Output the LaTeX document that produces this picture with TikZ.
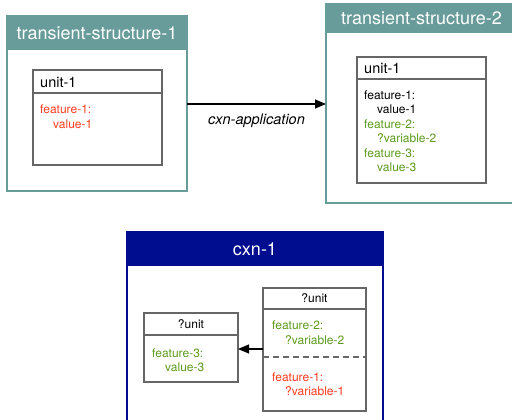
\documentclass[tikz,border=0pt]{standalone}
\usepackage{fontspec}
\setmainfont{TeX Gyre Heros}
\usetikzlibrary{arrows.meta}
\definecolor{teal1}{HTML}{689C9A}
\definecolor{navy1}{HTML}{000D8F}
\definecolor{red1}{HTML}{FF3B1F}
\definecolor{green1}{HTML}{5C9A1C}
\definecolor{gray1}{HTML}{666666}
\tikzset{
  box/.style={draw, rectangle, inner sep=0pt, outer sep=0pt, anchor=north west, line width=1.4pt},
  tsbox/.style={box, draw=teal1},
  cxbox/.style={box, draw=navy1},
  headfill/.style={rectangle, inner sep=0pt, outer sep=0pt, anchor=north west, text=white, font=\fontsize{18}{21}\selectfont},
  unitbox/.style={box, draw=gray1, line width=1.2pt},
  utitle/.style={anchor=west, inner sep=0pt, font=\fontsize{14.5}{17}\selectfont},
  qtitle/.style={anchor=center, inner sep=0pt, font=\fontsize{12}{14}\selectfont},
  ftxt/.style={anchor=west, inner sep=0pt, font=\fontsize{12}{14}\selectfont},
  arr/.style={line width=1.2pt, -{Triangle[length=11pt,width=9pt]}},
}
\begin{document}
\begin{tikzpicture}[x=1pt,y=-1pt]
\useasboundingbox (0,0) rectangle (512,420);
\clip (0,0) rectangle (512,420);
% transient-structure-1
\node[headfill, fill=teal1, minimum width=180, minimum height=34] (ts1h) at (7,16) {transient-structure-1};
\node[tsbox, minimum width=180, minimum height=175] (ts1) at (7,16) {};
\node[unitbox, minimum width=129, minimum height=95] (u1) at (33,70) {};
\draw[draw=gray1, line width=1.2pt] (33,93) -- (162,93);
\node[utitle] (u1t) at (40,82) {unit-1};
\node[ftxt, text=red1] (u1f1) at (40,109) {feature-1:};
\node[ftxt, text=red1] (u1v1) at (53,124) {value-1};
% transient-structure-2
\node[headfill, fill=teal1, minimum width=191, minimum height=29] (ts2h) at (326,4) {transient-structure-2};
\node[tsbox, minimum width=191, minimum height=199] (ts2) at (326,4) {};
\node[unitbox, minimum width=129, minimum height=126] (u2) at (357,57) {};
\draw[draw=gray1, line width=1.2pt] (357,79) -- (486,79);
\node[utitle] (u2t) at (364,68) {unit-1};
\node[ftxt] (u2f1) at (364,95) {feature-1:};
\node[ftxt] (u2v1) at (377,109.5) {value-1};
\node[ftxt, text=green1] (u2f2) at (364,124) {feature-2:};
\node[ftxt, text=green1] (u2v2) at (377,138.5) {?variable-2};
\node[ftxt, text=green1] (u2f3) at (364,153) {feature-3:};
\node[ftxt, text=green1] (u2v3) at (377,167.5) {value-3};
% application arrow
\coordinate (a1) at (187,104);
\coordinate (a2) at (326,104);
\draw[arr] (a1) -- (a2) node[midway, below=6pt, font=\fontsize{14.5}{17}\itshape] (lab) {cxn-application};
% cxn-1
\node[headfill, fill=navy1, minimum width=256, minimum height=34] (cxh) at (127,232) {cxn-1};
\node[cxbox, minimum width=256, minimum height=200] (cx) at (127,232) {};
% left ?unit
\node[unitbox, minimum width=94, minimum height=69] (q1) at (144,313) {};
\draw[draw=gray1, line width=1.2pt] (144,335) -- (238,335);
\node[qtitle] (q1t) at (191,324) {?unit};
\node[ftxt, text=green1] (q1f3) at (152,353) {feature-3:};
\node[ftxt, text=green1] (q1v3) at (165,367.5) {value-3};
% right ?unit
\node[unitbox, minimum width=103, minimum height=123] (q2) at (263,288) {};
\draw[draw=gray1, line width=1.2pt] (263,309) -- (366,309);
\draw[draw=gray1, line width=1.2pt, dash pattern=on 6pt off 4pt] (263,357) -- (366,357);
\node[qtitle] (q2t) at (314.5,298.5) {?unit};
\node[ftxt, text=green1] (q2f2) at (272,325) {feature-2:};
\node[ftxt, text=green1] (q2v2) at (285,340) {?variable-2};
\node[ftxt, text=red1] (q2f1) at (272,377) {feature-1:};
\node[ftxt, text=red1] (q2v1) at (285,391.5) {?variable-1};
% cxn arrow
\coordinate (b1) at (263,349);
\coordinate (b2) at (238,349);
\draw[arr] (b1) -- (b2);
\end{tikzpicture}
\end{document}
